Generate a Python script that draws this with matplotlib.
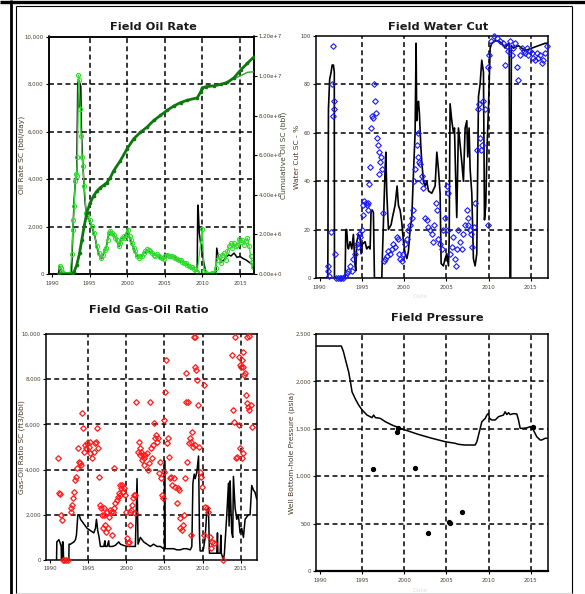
import os
import matplotlib
matplotlib.use("Agg")
import matplotlib.pyplot as plt
from matplotlib.lines import Line2D
from matplotlib import font_manager

# pick a narrow / condensed sans if one is installed (the reference uses a condensed face)
_paths = [f.fname for f in font_manager.fontManager.ttflist] + list(font_manager.findSystemFonts())


def _find(patterns, bold=False):
    for pat in patterns:
        for p in _paths:
            b = os.path.basename(p).lower()
            if pat in b and not any(k in b for k in ('italic', 'oblique')) and (('bold' in b) == bold):
                return p
    return None


_narrow = _find(['liberationsansnarrow-regular', 'liberationsansnarrow', 'dejavusanscondensed.ttf',
                 'condensed-regular', 'condensed', 'narrow'])
_narrow_bold = _find(['liberationsansnarrow-bold', 'dejavusanscondensed-bold', 'condensed-bold',
                      'condensed', 'narrow'], bold=True)
if _narrow:
    font_manager.fontManager.addfont(_narrow)
    NARROW = font_manager.FontProperties(fname=_narrow).get_name()
    HAVE_NARROW = True
else:
    NARROW = 'Liberation Sans'
    HAVE_NARROW = False
if _narrow_bold:
    font_manager.fontManager.addfont(_narrow_bold)
plt.rcParams['font.family'] = [NARROW, 'Liberation Sans', 'DejaVu Sans']

# ---------------- data ----------------
titles = ["Field Oil Rate", "Field Water Cut", "Field Gas-Oil Ratio", "Field Pressure"]
year_ticks = [1990, 1995, 2000, 2005, 2010, 2015]

# Panel 1: oil rate (bbl/day), simulated (black) and observed (green markers)
oil_sim_year = [1990.9, 1991.0, 1991.2, 1991.5, 1992.6, 1992.78, 1992.96, 1993.13, 1993.31, 1993.44, 1993.5,
                1993.55, 1993.6, 1993.65, 1993.7, 1993.76, 1993.84, 1993.93, 1994.07, 1994.2, 1994.38, 1994.56,
                1994.87, 1995.3, 1995.7, 1996.0, 1996.3, 1996.6, 1996.9, 1997.2, 1997.5, 1997.8, 1998.2, 1998.6,
                1998.9, 1999.3, 1999.6, 2000.0, 2000.4, 2000.8, 2001.3, 2001.8, 2002.3, 2002.8, 2003.3, 2003.8,
                2004.3, 2004.8, 2005.3, 2005.8, 2006.3, 2006.8, 2007.3, 2007.8, 2008.3, 2008.8, 2009.3, 2009.38,
                2009.45, 2009.58, 2009.76, 2009.98, 2010.2, 2010.42, 2010.6, 2011.8, 2011.9, 2012.1, 2012.5,
                2012.87, 2013.2, 2013.5, 2013.8, 2014.2, 2014.6, 2015.0, 2015.4, 2015.8, 2016.1, 2016.4, 2016.6,
                2016.87]
oil_sim = [0, 300, 150, 0, 0, 1700, 3140, 3990, 4270, 8100, 7000,
           8150, 7000, 8100, 7100, 8000, 7900, 5970, 4840, 4130, 3140, 2570,
           2300, 2000, 1600, 1100, 800, 650, 900, 1100, 1600, 1800, 1650, 1450,
           1150, 1500, 1550, 1750, 1500, 1150, 750, 750, 900, 1000, 880, 800,
           720, 630, 800, 750, 700, 580, 520, 430, 330, 220, 120, 2900,
           2700, 1730, 1300, 880, 450, 100, 0, 0, 1090, 740, 500,
           590, 740, 800, 760, 880, 700, 740, 650, 590, 520, 450, 400,
           170]
oil_obs_year = [1991.09, 1991.22, 1991.36, 1991.53, 1991.76, 1991.98, 1992.2, 1992.42, 1992.64, 1992.78, 1992.87,
                1992.96, 1993.09, 1993.18, 1993.27, 1993.4, 1993.53, 1993.62, 1993.76, 1993.89, 1994.02, 1994.11,
                1994.29, 1994.56, 1994.73, 1995.0, 1995.31, 1995.62, 1995.98, 1996.24, 1996.51, 1996.78, 1997.04,
                1997.22, 1997.4, 1997.58, 1997.76, 1997.98, 1998.2, 1998.42, 1998.64, 1998.87, 1999.09, 1999.31,
                1999.53, 1999.76, 1999.98, 2000.16, 2000.33, 2000.51, 2000.69, 2000.87, 2001.09, 2001.31, 2001.53,
                2001.76, 2001.98, 2002.2, 2002.42, 2002.64, 2002.87, 2003.09, 2003.31, 2003.53, 2003.76, 2003.98,
                2004.2, 2004.42, 2004.64, 2004.87, 2005.09, 2005.31, 2005.53, 2005.76, 2005.98, 2006.2, 2006.42,
                2006.64, 2006.87, 2007.09, 2007.31, 2007.53, 2007.76, 2007.98, 2008.2, 2008.42, 2008.64, 2008.87,
                2009.09, 2009.31, 2010.0, 2010.2, 2010.42, 2010.64, 2010.87, 2011.09, 2011.31, 2011.53, 2011.76,
                2011.98, 2012.2, 2012.42, 2012.64, 2012.87, 2013.09, 2013.31, 2013.53, 2013.76, 2013.98, 2014.2,
                2014.42, 2014.64, 2014.87, 2015.09, 2015.31, 2015.53, 2015.76, 2015.98, 2016.2, 2016.42, 2016.56,
                2016.69]
oil_obs = [350, 240, 100, 30, 0, 0, 0, 0, 850, 1870, 2290,
           2860, 3920, 4200, 4130, 4910, 8370, 8160, 6960, 5830, 4910, 4550,
           3710, 2570, 2500, 2290, 2010, 1730, 1160, 880, 660, 810, 1020,
           1090, 1440, 1730, 1800, 1730, 1650, 1510, 1440, 1160, 1300, 1510,
           1580, 1510, 1730, 1870, 1580, 1440, 1300, 1090, 950, 740, 660,
           760, 740, 880, 950, 1050, 990, 950, 880, 810, 760, 850,
           740, 710, 660, 620, 740, 810, 760, 740, 760, 710, 660,
           620, 570, 590, 520, 480, 450, 380, 350, 310, 280, 200,
           140, 100, 1900, 140, 60, 0, 0, 0, 30, 60, 240,
           590, 740, 450, 810, 880, 590, 950, 1160, 1300, 1090, 1300,
           1160, 1230, 1470, 1330, 1440, 1230, 1370, 1510, 1160, 740, 520,
           310]

# Panel 1 right axis: cumulative oil (bbl)
cum_year = [1990.9, 1992.64, 1992.96, 1993.31, 1993.67, 1993.98, 1994.29, 1994.64, 1995.09, 1995.53, 1995.98,
            1996.42, 1996.87, 1997.31, 1997.76, 1998.2, 1999.09, 1999.98, 2000.87, 2001.76, 2002.64, 2003.53,
            2004.42, 2005.31, 2006.2, 2007.09, 2007.98, 2009.31, 2009.76, 2009.98, 2010.42, 2011.53, 2012.42,
            2013.31, 2014.2, 2015.09, 2015.98, 2016.87]
cum_obs = [0, 0, 0.12e6, 0.46e6, 1.05e6, 1.73e6, 2.41e6, 3.09e6, 3.6e6, 3.94e6, 4.19e6,
           4.36e6, 4.48e6, 4.62e6, 4.87e6, 5.21e6, 5.72e6, 6.32e6, 6.83e6, 7.16e6, 7.42e6, 7.76e6,
           8.01e6, 8.27e6, 8.49e6, 8.66e6, 8.78e6, 8.9e6, 9.2e6, 9.41e6, 9.46e6, 9.51e6, 9.58e6,
           9.68e6, 9.92e6, 10.31e6, 10.65e6, 10.98e6]
cum_sim_year = [2013.31, 2014.2, 2015.09, 2015.98, 2016.87]
cum_sim = [9.68e6, 9.88e6, 10.02e6, 10.19e6, 10.22e6]

# Panel 2: water cut (%)
wc_sim_year = [1989.9, 1990.98, 1991.06, 1991.2, 1991.37, 1991.5, 1991.65, 1991.75, 1991.77, 1993.03, 1993.11,
               1993.22, 1993.34, 1993.42, 1993.62, 1993.82, 1994.01, 1994.21, 1994.29, 1994.41, 1994.61, 1994.8,
               1994.92, 1995.08, 1995.39, 1995.59, 1995.79, 1995.99, 1996.1, 1996.26, 1996.38, 1996.5, 1997.37,
               1997.45, 1997.76, 1997.85, 1997.96, 1998.16, 1998.47, 1998.63, 1998.94, 1999.18, 1999.34, 1999.54,
               1999.73, 1999.93, 2000.13, 2000.33, 2000.52, 2000.72, 2000.92, 2001.08, 2001.31, 2001.43, 2001.5,
               2001.59, 2001.71, 2001.82, 2001.98, 2002.1, 2002.3, 2002.5, 2002.69, 2002.89, 2003.28, 2003.68,
               2003.88, 2004.07, 2004.27, 2004.39, 2004.66, 2004.86, 2005.06, 2005.26, 2005.34, 2005.45, 2005.65,
               2005.85, 2005.97, 2006.12, 2006.24, 2006.44, 2006.64, 2006.83, 2007.03, 2007.23, 2007.43, 2007.54,
               2007.7, 2007.82, 2008.02, 2008.21, 2008.41, 2008.61, 2008.81, 2009.0, 2009.2, 2009.4, 2009.52,
               2009.67, 2009.83, 2009.99, 2010.19, 2010.38, 2010.78, 2011.17, 2011.57, 2011.96, 2012.16, 2012.44,
               2012.55, 2012.62, 2012.7, 2012.95, 2013.54, 2014.33, 2015.12, 2015.91, 2016.7, 2017.0]
wc_sim = [0, 0, 70, 82, 85, 88, 88, 85, 0, 0, 20,
          20, 13, 12, 15, 12, 18, 5, 3, 15, 18, 17,
          10, 14, 15, 12, 13, 12, 28, 28, 27, 0, 0,
          10, 45, 52, 35, 20, 22, 25, 30, 38, 30, 28,
          23, 15, 10, 8, 11, 20, 25, 40, 60, 97, 65,
          70, 73, 68, 55, 48, 40, 38, 40, 36, 35, 38,
          52, 45, 35, 6, 5, 8, 10, 5, 15, 72, 65,
          60, 62, 40, 25, 62, 55, 48, 40, 62, 65, 50,
          62, 45, 35, 8, 5, 10, 75, 80, 90, 85, 24,
          30, 55, 70, 95, 97, 98, 98, 97, 95, 96, 97,
          0, 0, 96, 95, 96, 94, 95, 96, 97, 97]
wc_obs_year = [1990.98, 1991.06, 1991.18, 1991.37, 1991.45, 1991.57, 1991.65, 1991.69, 1991.73, 1991.84, 1992.0,
               1992.2, 1992.4, 1992.6, 1992.8, 1993.0, 1993.2, 1993.4, 1993.62, 1993.82, 1994.01, 1994.21,
               1994.41, 1994.61, 1994.7, 1994.8, 1995.0, 1995.12, 1995.2, 1995.31, 1995.47, 1995.59, 1995.71,
               1995.79, 1995.87, 1995.99, 1996.1, 1996.18, 1996.38, 1996.5, 1996.58, 1996.66, 1996.77, 1996.89,
               1997.0, 1997.08, 1997.2, 1997.32, 1997.4, 1997.47, 1997.6, 1997.76, 1997.96, 1998.16, 1998.35,
               1998.55, 1998.75, 1998.94, 1999.14, 1999.26, 1999.42, 1999.54, 1999.73, 1999.93, 2000.13, 2000.33,
               2000.52, 2000.72, 2000.92, 2001.04, 2001.16, 2001.31, 2001.51, 2001.63, 2001.71, 2001.79, 2001.9,
               2002.1, 2002.18, 2002.3, 2002.5, 2002.69, 2002.89, 2003.09, 2003.28, 2003.48, 2003.6, 2003.76,
               2003.88, 2004.07, 2004.27, 2004.47, 2004.66, 2004.86, 2005.06, 2005.18, 2005.26, 2005.45, 2005.65,
               2005.85, 2006.04, 2006.16, 2006.28, 2006.44, 2006.64, 2006.83, 2007.03, 2007.23, 2007.43, 2007.54,
               2007.62, 2007.82, 2007.93, 2008.09, 2008.25, 2008.41, 2008.61, 2008.73, 2008.88, 2009.0, 2009.12,
               2009.28, 2009.4, 2009.59, 2009.9, 2009.99, 2010.11, 2010.31, 2010.59, 2010.98, 2011.37, 2011.76,
               2011.96, 2012.16, 2012.36, 2012.55, 2012.75, 2012.95, 2013.1, 2013.34, 2013.54, 2013.7, 2014.0,
               2014.2, 2014.33, 2014.5, 2014.72, 2014.9, 2015.12, 2015.3, 2015.5, 2015.7, 2015.91, 2016.1,
               2016.3, 2016.5, 2016.7, 2016.9]
wc_obs = [3, 5, 1, 19, 80, 96, 67, 70, 73, 10, 0,
          0, 0, 0, 0, 1, 2, 3, 5, 3, 8, 10,
          14, 13, 18, 17, 20, 26, 30, 32, 31, 30, 28,
          31, 39, 46, 62, 67, 66, 80, 73, 68, 58, 55,
          52, 43, 48, 50, 45, 27, 7, 8, 9, 11, 10,
          12, 14, 13, 17, 16, 10, 8, 7, 10, 14, 16,
          20, 22, 25, 28, 40, 45, 55, 60, 50, 48, 47,
          42, 40, 37, 25, 24, 21, 20, 18, 15, 22, 31,
          28, 16, 14, 12, 20, 25, 38, 35, 20, 10, 13,
          17, 8, 5, 12, 20, 15, 12, 18, 22, 28, 25,
          22, 20, 18, 13, 21, 31, 53, 70, 72, 58, 53,
          55, 73, 70, 22, 87, 92, 98, 100, 99, 98, 97,
          88, 96, 94, 98, 92, 95, 97, 87, 82, 92, 95,
          94, 93, 95, 92, 94, 93, 91, 90, 93, 91, 92,
          89, 90, 93, 96]

# Panel 3: gas-oil ratio (ft3/bbl)
gor_sim_year = [1990.86, 1990.9, 1991.17, 1991.38, 1991.47, 1991.5, 1991.6, 1991.65, 1991.73, 1991.78, 1992.47,
                1992.5, 1992.69, 1993.13, 1993.34, 1993.47, 1993.65, 1993.82, 1994.0, 1994.22, 1994.43, 1994.65,
                1994.87, 1995.31, 1995.74, 1995.96, 1996.09, 1996.26, 1996.44, 1996.61, 1996.83, 1997.05, 1997.2,
                1997.25, 1997.48, 1997.7, 1997.75, 1997.92, 1998.2, 1998.57, 1999.01, 1999.23, 1999.6, 2000.1,
                2000.53, 2000.97, 2001.19, 2001.41, 2001.54, 2001.84, 2002.06, 2002.28, 2002.71, 2003.15, 2003.58,
                2004.02, 2004.46, 2004.89, 2005.0, 2005.02, 2005.07, 2005.33, 2005.76, 2006.2, 2006.63, 2007.07,
                2007.51, 2007.94, 2008.38, 2008.59, 2008.73, 2008.9, 2009.03, 2009.25, 2009.47, 2009.6, 2009.68,
                2009.9, 2010.12, 2010.34, 2010.56, 2010.77, 2010.9, 2011.43, 2011.86, 2011.95, 2012.0, 2012.3,
                2012.39, 2012.45, 2012.73, 2012.86, 2012.95, 2013.17, 2013.39, 2013.47, 2013.61, 2013.69, 2013.82,
                2013.95, 2014.04, 2014.26, 2014.48, 2014.69, 2014.91, 2015.13, 2015.35, 2015.57, 2015.78, 2016.0,
                2016.22, 2016.44, 2016.66, 2016.87, 2017.09]
gor_sim = [0, 800, 900, 700, 600, 0, 0, 800, 800, 0, 0,
           700, 700, 800, 900, 1100, 2000, 2000, 1800, 1700, 1600, 1500,
           1400, 1300, 1200, 1400, 1800, 1300, 1000, 600, 600, 600, 850,
           600, 600, 850, 600, 600, 600, 650, 800, 700, 650, 600,
           600, 600, 600, 3600, 700, 1000, 900, 800, 700, 600, 700,
           600, 600, 500, 500, 4400, 500, 500, 500, 500, 450, 450,
           500, 500, 450, 600, 3400, 3800, 3600, 3900, 4600, 1000, 400,
           400, 500, 1000, 2200, 2300, 300, 300, 300, 1200, 300, 300,
           1100, 300, 0, 300, 800, 2000, 3400, 1500, 3500, 2500, 1200,
           1000, 3700, 2300, 1800, 2000, 1200, 1400, 1000, 1800, 1900, 2000,
           2000, 3300, 3100, 3000, 2700]
gor_obs_year = [1991.03, 1991.17, 1991.3, 1991.38, 1991.6, 1991.7, 1991.9, 1992.1, 1992.3, 1992.69, 1992.78,
                1992.91, 1993.04, 1993.13, 1993.34, 1993.47, 1993.56, 1993.65, 1993.78, 1994.0, 1994.13, 1994.22,
                1994.35, 1994.43, 1994.65, 1994.78, 1994.87, 1995.09, 1995.22, 1995.31, 1995.52, 1995.74, 1995.96,
                1996.09, 1996.18, 1996.31, 1996.44, 1996.61, 1996.74, 1996.83, 1996.96, 1997.05, 1997.14, 1997.27,
                1997.4, 1997.48, 1997.61, 1997.75, 1997.92, 1998.05, 1998.18, 1998.27, 1998.36, 1998.44, 1998.57,
                1998.79, 1998.88, 1999.01, 1999.14, 1999.23, 1999.31, 1999.44, 1999.58, 1999.66, 1999.84, 2000.01,
                2000.1, 2000.19, 2000.32, 2000.45, 2000.53, 2000.66, 2000.75, 2000.88, 2000.97, 2001.1, 2001.19,
                2001.32, 2001.49, 2001.62, 2001.75, 2001.84, 2001.97, 2002.1, 2002.19, 2002.28, 2002.36, 2002.49,
                2002.71, 2002.84, 2002.97, 2003.15, 2003.28, 2003.37, 2003.5, 2003.58, 2003.71, 2003.85, 2004.02,
                2004.11, 2004.28, 2004.46, 2004.59, 2004.67, 2004.8, 2004.89, 2004.98, 2005.07, 2005.15, 2005.33,
                2005.46, 2005.59, 2005.76, 2005.89, 2005.98, 2006.2, 2006.42, 2006.63, 2006.72, 2006.85, 2006.98,
                2007.07, 2007.29, 2007.42, 2007.51, 2007.72, 2007.77, 2007.85, 2007.94, 2008.07, 2008.16, 2008.38,
                2008.45, 2008.51, 2008.64, 2008.73, 2008.81, 2008.94, 2008.99, 2009.03, 2009.16, 2009.25, 2009.34,
                2009.47, 2009.68, 2009.82, 2009.95, 2010.12, 2010.12, 2010.34, 2010.56, 2010.77, 2010.99, 2011.12,
                2011.25, 2011.43, 2012.73, 2013.82, 2014.04, 2014.13, 2014.26, 2014.39, 2014.56, 2014.74, 2014.83,
                2014.91, 2015.0, 2014.91, 2015.13, 2015.13, 2015.26, 2015.35, 2015.35, 2015.44, 2015.57, 2015.7,
                2015.78, 2015.87, 2016.0, 2016.13, 2016.13, 2016.31, 2016.44]
gor_obs = [4500, 2950, 2900, 2000, 1770, 0, 0, 0, 0, 2290, 2140,
           2430, 2730, 3020, 3540, 3690, 4060, 4940, 4350, 4280, 4200, 6490,
           5830, 4790, 5090, 4940, 5160, 5010, 5240, 4720, 4500, 4790, 5160,
           5240, 5830, 4940, 3690, 2430, 2290, 1990, 1400, 2290, 1990, 1550,
           1250, 2140, 1400, 1920, 2210, 2140, 1110, 2140, 4060, 2290, 2510,
           2650, 2800, 2950, 3320, 2880, 3170, 3320, 3020, 3170, 2880, 2140,
           960, 740, 810, 1550, 2140, 2210, 2430, 2730, 2880, 2060, 2880,
           7010, 4790, 5240, 4940, 4650, 4790, 4420, 4650, 4200, 4500, 4650,
           4720, 3980, 4280, 7010, 4940, 4500, 5090, 6050, 5380, 5530, 5240,
           5380, 3830, 4350, 3610, 2880, 2730, 3910, 6190, 7450, 8850, 5160,
           5380, 4570, 3610, 3690, 3320, 3610, 3240, 2510, 3170, 3100, 1840,
           1400, 1330, 1550, 1990, 3610, 8260, 7010, 4350, 7010, 5160, 5380,
           1100, 5240, 5680, 5010, 9880, 9880, 8550, 5090, 8410, 7960, 6860,
           5010, 3910, 3690, 3240, 7740, 1110, 2360, 2290, 2140, 1030, 520,
           810, 740, 0, 9070, 6640, 6120, 9880, 4500, 4540, 5970, 9000,
           8630, 8550, 4940, 8850, 4500, 9220, 8550, 4720, 8190, 8260, 7300,
           9880, 6930, 6780, 6640, 9900, 6860, 5900]

# Panel 4: well bottom-hole pressure (psia)
pres_sim_year = [1989.6, 1992.55, 1992.8, 1993.1, 1993.42, 1993.62, 1993.82, 1994.0, 1994.21, 1994.61, 1995.0,
                 1995.59, 1996.18, 1996.38, 1996.58, 1997.17, 1997.76, 1998.55, 1999.54, 2000.13, 2001.71, 2003.28,
                 2004.86, 2006.04, 2006.44, 2007.23, 2008.41, 2008.61, 2008.81, 2009.2, 2009.6, 2009.79, 2009.99,
                 2010.11, 2010.38, 2010.78, 2011.17, 2011.76, 2011.96, 2012.16, 2012.36, 2012.55, 2012.95, 2013.34,
                 2013.54, 2013.74, 2014.13, 2014.52, 2014.92, 2015.31, 2015.7, 2016.1, 2016.3, 2016.7, 2017.0]
pres_sim = [2373, 2373, 2314, 2208, 2100, 2000, 1890, 1855, 1815, 1750, 1700,
            1645, 1618, 1645, 1618, 1610, 1575, 1540, 1505, 1487, 1440, 1400,
            1364, 1347, 1336, 1329, 1329, 1364, 1435, 1575, 1610, 1645, 1663,
            1610, 1593, 1593, 1628, 1645, 1680, 1650, 1670, 1650, 1660, 1656,
            1593, 1505, 1505, 1510, 1522, 1487, 1417, 1382, 1382, 1400, 1400]
pres_obs_year = [1996.3, 1999.2, 1999.3, 2001.3, 2002.8, 2005.3, 2005.4, 2006.9, 2015.2]
pres_obs = [1076, 1470, 1505, 1090, 397, 520, 503, 619, 1520]

# ---------------- figure ----------------
W, H = 585, 594
fig = plt.figure(figsize=(W / 100, H / 100), dpi=100)


def rect(l, t, r, b):
    return [l / W, 1 - b / H, (r - l) / W, (b - t) / H]


def px(x, y):
    return x / W, 1 - y / H


TICK_COLOR = '#4a3e36'
LABEL_COLOR = '#4a3a2a'
DASH = (0, (3.2, 2.2))
TICK_FS = 3.9 if HAVE_NARROW else 3.7
TITLE_FS = 8.2 if HAVE_NARROW else 7.8
YLAB_FS = 5.4


def style(ax, xlim, yticks, ylabels, ylabel, ylab_x, xpad=2.6):
    ax.set_xlim(*xlim)
    ax.set_xticks(year_ticks)
    ax.set_xticklabels([str(y) for y in year_ticks])
    ax.set_yticks(yticks)
    ax.set_yticklabels(ylabels)
    ax.tick_params(axis='both', direction='out', length=2.5, width=0.8, labelsize=TICK_FS,
                   labelcolor=TICK_COLOR, pad=1.0)
    ax.tick_params(axis='x', pad=xpad)
    for s in ax.spines.values():
        s.set_linewidth(1.1)
        s.set_color('black')
    for x in year_ticks[1:]:
        ax.axvline(x, color='black', lw=1.1, ls=DASH, zorder=1)
    for y in yticks[1:-1]:
        ax.axhline(y, color='black', lw=1.1, ls=DASH, zorder=1)
    ax.set_ylabel(ylabel, fontsize=YLAB_FS, color=LABEL_COLOR)
    ax.yaxis.set_label_coords(ylab_x, 0.5)


# Panel 1
ax1 = fig.add_axes(rect(48.5, 36.5, 254, 274))
ax1.set_ylim(0, 10000)
style(ax1, (1989.55, 2016.85), [0, 2000, 4000, 6000, 8000, 10000],
      ['0', '2,000', '4,000', '6,000', '8,000', '10,000'], 'Oil Rate SC (bbl/day)', -0.112)
ax1.plot(oil_sim_year, oil_sim, color='black', lw=1.1, zorder=3)
ax1.plot(oil_obs_year, oil_obs, color='#33dd33', lw=0.9, marker='o', ms=3.0, mfc='none',
         mew=0.8, zorder=4)
ax1b = ax1.twinx()
ax1b.set_ylim(0, 1.2e7)
ax1b.set_yticks([0, 2e6, 4e6, 6e6, 8e6, 10e6, 12e6])
ax1b.set_yticklabels(['0.00e+0', '2.00e+6', '4.00e+6', '6.00e+6', '8.00e+6', '1.00e+7', '1.20e+7'])
ax1b.tick_params(axis='y', direction='out', length=2.5, width=0.8, labelsize=TICK_FS,
                 labelcolor=TICK_COLOR, pad=1.0)
for s in ax1b.spines.values():
    s.set_linewidth(1.1)
ax1b.plot(cum_sim_year, cum_sim, color='#2aa82a', lw=1.0, zorder=3)
ax1b.plot(cum_year, cum_obs, color='#0e780e', lw=2.0, marker='o', ms=1.6, zorder=4)
ax1b.set_ylabel('Cumulative Oil SC (bbl)', fontsize=YLAB_FS, color='#3a4a2a', rotation=90)
ax1b.yaxis.set_label_coords(1.128, 0.5)

# Panel 2
ax2 = fig.add_axes(rect(315.7, 36, 547.7, 278))
ax2.set_ylim(0, 100)
style(ax2, (1989.55, 2017.0), [0, 20, 40, 60, 80, 100], ['0', '20', '40', '60', '80', '100'],
      'Water Cut SC - %', -0.066)
ax2.plot(wc_sim_year, wc_sim, color='black', lw=1.2, zorder=3)
ax2.plot(wc_obs_year, wc_obs, ls='none', marker='D', ms=2.9, mfc='none', mec='#1a1aff',
         mew=0.8, zorder=4, clip_on=False)

# Panel 3
ax3 = fig.add_axes(rect(45.7, 334, 256.7, 560))
ax3.set_ylim(0, 10000)
style(ax3, (1989.44, 2017.09), [0, 2000, 4000, 6000, 8000, 10000],
      ['0', '2,000', '4,000', '6,000', '8,000', '10,000'], 'Gas-Oil Ratio SC (ft3/bbl)', -0.1, xpad=2.0)
ax3.plot(gor_sim_year, gor_sim, color='black', lw=1.1, zorder=3)
ax3.plot(gor_obs_year, gor_obs, ls='none', marker='D', ms=2.9, mfc='none', mec='#ff1a1a',
         mew=0.9, zorder=4, clip_on=False)

# Panel 4
ax4 = fig.add_axes(rect(316, 334, 547.7, 571))
ax4.set_ylim(0, 2500)
style(ax4, (1989.55, 2017.0), [0, 500, 1000, 1500, 2000, 2500],
      ['0', '500', '1,000', '1,500', '2,000', '2,500'], 'Well Bottom-hole Pressure (psia)', -0.09)
ax4.plot(pres_sim_year, pres_sim, color='black', lw=1.1, zorder=3)
ax4.plot(pres_obs_year, pres_obs, ls='none', marker='o', ms=2.8, color='black', zorder=4)
ax4.spines['bottom'].set_linewidth(1.6)

# Titles
for (tx, ty), t in zip([(153, 27), (438, 27), (149, 310), (437, 318)], titles):
    fig.text(*px(tx, ty), t, ha='center', va='center', fontsize=TITLE_FS, color='#1a1a1a',
             fontweight='bold')

# faint axis labels
fig.text(*px(420, 297), 'Date', ha='center', va='center', fontsize=4.5, color='#e0e0e0')
fig.text(*px(420, 590), 'Date', ha='center', va='center', fontsize=4.5, color='#e0e0e0')


# document frame
def fline(x0, y0, x1, y1, lw, color='black'):
    fig.add_artist(Line2D([x0 / W, x1 / W], [1 - y0 / H, 1 - y1 / H], lw=lw, color=color,
                          solid_capstyle='butt'))


fline(0, 1.5, 585, 1.5, 2.4)
fline(10.7, 0, 10.7, 594, 2.0)
fline(16.3, 6, 572.3, 6, 0.8)
fline(16.3, 6, 16.3, 594, 0.8)
fline(572.3, 6, 572.3, 594, 0.8)
fline(16.3, 592.5, 572.3, 592.5, 0.8, '#d8d8d8')

fig.savefig('out.png', dpi=100)
